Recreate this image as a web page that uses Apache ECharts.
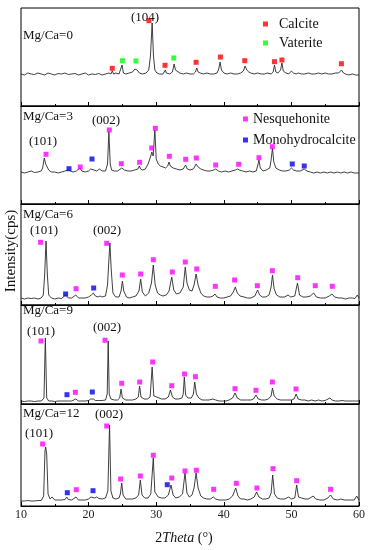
<!DOCTYPE html>
<html><head><meta charset="utf-8">
<script src="https://cdn.jsdelivr.net/npm/echarts@6/dist/echarts.min.js"></script>
<style>html,body{margin:0;padding:0;background:#fff}#c{width:368px;height:550px}</style>
</head><body><div id="c"></div>
<script>
// x tick labels
const xTicks = [10, 20, 30, 40, 50, 60];
const panelLabels = ['Mg/Ca=0', 'Mg/Ca=3', 'Mg/Ca=6', 'Mg/Ca=9', 'Mg/Ca=12'];

// XRD patterns [2theta, intensity] (relative, per panel)
const xrd0 = [[10,32],[10.5,31],[11,33],[11.5,32],[12,31.5],[12.5,33],[13,32],[13.5,31],[14,33],[14.5,32],[15,31],[15.5,32.5],[16,32],[16.5,33],[17,31.5],[17.5,32],[18,32.5],[18.5,31],[19,32],[19.5,33],[20,31],[20.5,32],[21,31.5],[21.5,32.5],[22,31],[22.5,32],[23,33],[23.3,32],[23.5,35],[23.7,32],[24,33],[24.5,32],[24.75,33],[24.95,41],[25.15,33],[25.5,32],[26,33],[26.5,34],[26.85,37],[27.0,39],[27.2,36],[27.5,33],[28,32],[28.5,33],[28.9,36],[29.15,50],[29.4,83],[29.6,50],[29.8,36],[30.1,33],[30.5,32],[31,32],[31.2,34],[31.35,36],[31.5,33],[32,32],[32.4,34],[32.65,42],[32.85,36],[33.1,35],[33.5,33],[34,32],[34.5,33],[35,32],[35.5,32],[35.8,34],[36.0,38],[36.2,34],[36.5,33],[37,32],[37.5,33],[38,32],[38.5,32],[39,33],[39.25,37],[39.45,44],[39.65,36],[40,33],[40.5,32],[41,33],[41.5,32],[42,32],[42.5,33],[42.9,35],[43.15,40],[43.4,36],[43.7,34],[44,33],[44.5,32],[45,33],[45.5,32],[46,32],[46.5,33],[47,32],[47.3,34],[47.5,41],[47.7,34],[48,33],[48.4,36],[48.6,43],[48.8,35],[49.2,33],[49.6,32],[50,35],[50.3,33],[50.7,32],[51,33],[51.5,32],[52,32],[52.5,33],[53,32],[53.5,32],[54,33],[54.5,32],[55,33],[55.5,32],[56,32],[56.5,33],[57,33],[57.4,36],[57.7,33],[58,32],[58.5,31],[59,32],[59.5,31],[60,31]];
const xrd3 = [[10,32],[10.5,31],[11,32],[11.5,33],[12,31.5],[12.5,32],[13,33],[13.2,36],[13.45,46],[13.65,40],[13.85,38],[14.1,34],[14.5,32],[15,32],[15.5,31],[16,32],[16.5,33],[17,34],[17.3,33],[17.7,32],[18.2,33],[18.7,36],[19,33],[19.5,32],[20,33],[20.3,35],[20.55,37],[20.8,34],[21.2,33],[21.6,35],[22,33],[22.5,33],[22.8,40],[23.0,72],[23.2,40],[23.4,34],[23.8,33],[24.3,33],[24.9,36],[25.3,34],[25.8,33],[26.3,33],[26.8,34],[27.3,35],[27.5,38],[27.7,35],[28,34],[28.4,35],[28.8,40],[29.2,48],[29.35,52],[29.55,48],[29.8,74],[30.0,45],[30.3,40],[30.6,38],[31,37],[31.4,36],[31.7,38],[31.9,42],[32.1,38],[32.5,36],[33,35],[33.5,34],[34,35],[34.35,39],[34.6,35],[35,34],[35.5,35],[35.9,40],[36.2,37],[36.6,35],[37,34],[37.5,33],[38,33],[38.5,34],[38.8,35],[39.2,33],[39.7,32],[40.2,33],[40.7,32],[41.2,33],[41.7,34],[42.0,35],[42.3,34],[42.8,33],[43.3,32],[43.8,33],[44.3,32],[44.8,33],[45.0,38],[45.2,44],[45.4,36],[45.8,33],[46.3,34],[46.8,36],[47.0,44],[47.2,56],[47.4,42],[47.7,36],[48.2,34],[48.7,33],[49.2,33],[49.7,34],[50.0,36],[50.3,34],[50.8,33],[51.3,33],[51.9,35],[52.3,33],[52.8,32],[53.3,31],[53.8,32],[54.3,31],[54.8,32],[55.3,31],[55.8,32],[56.3,31],[56.8,32],[57.3,31],[57.8,32],[58.3,31],[58.8,32],[59.3,31],[60,31]];
const xrd6 = [[10,7],[10.5,6],[11,7],[11.5,6.5],[12,7],[12.5,6],[13,7],[13.3,10],[13.5,30],[13.7,64],[13.9,30],[14.1,10],[14.5,7],[15,6],[15.5,7],[16,6.5],[16.6,10],[17,7],[17.5,7],[18.1,10],[18.5,7],[19,7],[19.5,7],[20,8],[20.4,10],[20.7,12],[21,9],[21.4,8],[21.7,9],[22,8],[22.5,9],[22.8,20],[23.0,45],[23.15,62],[23.35,35],[23.6,12],[24,8],[24.5,8],[24.8,14],[25.0,24],[25.2,14],[25.6,8],[26,7],[26.5,8],[27,9],[27.45,14],[27.7,26],[27.95,13],[28.4,9],[28.9,12],[29.3,22],[29.57,40],[29.85,20],[30.2,12],[30.6,10],[31,9],[31.5,10],[31.9,14],[32.3,28],[32.6,15],[33,11],[33.5,12],[34,18],[34.3,38],[34.55,22],[34.9,15],[35.3,14],[35.6,20],[35.9,31],[36.2,20],[36.6,12],[37,9],[37.5,8],[38,8],[38.4,9],[38.7,11],[39,8],[39.5,7],[40,7],[40.5,8],[41,9],[41.4,13],[41.7,18],[42.0,12],[42.4,9],[43,8],[43.5,7],[44,7],[44.6,9],[45.0,15],[45.3,10],[45.7,8],[46.2,8],[46.7,10],[47.0,18],[47.2,30],[47.45,16],[47.8,10],[48.3,8],[49,8],[49.5,10],[49.9,8],[50.5,9],[50.9,22],[51.2,10],[51.7,8],[52.2,8],[52.8,9],[53.3,12],[53.7,8],[54.3,7],[55,7],[55.6,9],[56.0,11],[56.4,8],[57,7],[57.5,7],[58,6],[58.5,7],[59,7],[59.4,6.5],[59.75,10],[60,7]];
const xrd9 = [[10,3],[10.5,2.5],[11,3],[11.5,3],[12,2.5],[12.5,3],[13,3],[13.4,6],[13.6,66],[13.8,6],[14.1,3],[14.6,3],[15,2.5],[15.5,3],[16,3],[16.5,3],[16.76,4.5],[17,3],[17.5,3],[18.1,5],[18.5,3],[19,3],[19.5,3],[20,3.5],[20.3,5],[20.5,7],[20.7,5],[21,3.5],[21.5,3.5],[22,3.5],[22.5,4],[22.75,10],[22.9,63],[23.05,10],[23.3,5],[23.8,4],[24.3,4],[24.6,6],[24.8,15],[25.0,6],[25.5,4],[26,4],[26.5,4],[27,5],[27.35,7],[27.55,18],[27.75,7],[28.2,5],[28.7,5],[29.1,7],[29.4,37],[29.65,8],[29.9,6],[30.07,7],[30.3,5],[30.8,5],[31.3,5],[31.8,7],[32.1,14],[32.4,7],[32.8,5],[33.3,5],[33.8,6],[34.0,10],[34.16,27],[34.35,9],[34.7,6],[35.2,6],[35.5,10],[35.7,22],[35.95,10],[36.3,6],[36.8,4],[37.3,4],[37.8,4],[38.4,5],[38.8,4],[39.3,3],[39.8,3],[40.3,3],[40.8,4],[41.3,6],[41.66,11],[42.0,6],[42.5,4],[43,4],[43.5,4],[44,4],[44.4,5],[44.76,9],[45.1,5],[45.6,4],[46.1,4],[46.6,5],[47.0,8],[47.2,16],[47.45,8],[47.9,5],[48.4,4],[49,4],[49.5,4],[50,4],[50.4,5],[50.7,10],[51,5],[51.5,4],[52,4],[52.5,3],[53,4],[53.5,3],[54,4],[54.5,3],[55,3.5],[55.7,6],[56,4],[56.5,3],[57,3],[57.5,3.5],[58,3],[58.5,3],[59,3],[59.5,3],[59.7,5],[60,3]];
const xrd12 = [[10,5],[10.5,5],[11,5.5],[11.5,5],[12,5],[12.5,5.5],[13,5.5],[13.35,10],[13.55,55],[13.65,59],[13.8,52],[14.0,12],[14.3,7],[14.6,9],[15,6],[15.5,6],[16,6],[16.5,6.5],[16.76,9],[17,6.5],[17.5,6],[18.14,9],[18.5,6],[19,6],[19.5,6],[20,7],[20.35,9],[20.6,11],[20.9,8],[21.2,9],[21.5,7.5],[22,7],[22.5,8],[22.85,15],[23.1,81],[23.3,15],[23.6,8],[24,7],[24.5,8],[24.7,12],[24.9,23],[25.1,11],[25.5,7],[26,7],[26.5,7],[27,8],[27.4,11],[27.65,26],[27.9,11],[28.3,8],[28.8,8],[29.2,12],[29.57,48],[29.8,14],[30.07,13],[30.3,9],[30.8,8],[31.3,8],[31.8,11],[32.19,21],[32.5,11],[32.9,8],[33.4,9],[33.9,12],[34.26,33],[34.55,13],[34.9,9],[35.3,11],[35.6,18],[35.9,33],[36.2,18],[36.6,10],[37,8],[37.5,7],[38,7],[38.45,9],[38.8,7],[39.3,6],[39.8,6],[40.3,6],[40.8,7],[41.3,10],[41.76,18],[42.1,10],[42.5,7],[43,7],[43.5,6],[44,7],[44.5,9],[44.86,14],[45.2,9],[45.7,7],[46.2,7],[46.7,8],[47.0,13],[47.23,31],[47.5,12],[47.9,8],[48.4,7],[49,7],[49.6,9],[50,7],[50.5,8],[50.78,21],[51.05,9],[51.5,8],[52,7],[52.5,7],[53.24,10],[53.6,7],[54.2,6],[54.8,6],[55.4,8],[55.8,11],[56.2,7],[56.8,6],[57.3,7],[57.8,6],[58.3,6],[58.8,6],[59.3,6],[59.66,10],[60,6]];

// phase markers [2theta, marker height]
const calcite0 = [[23.5,37.7],[28.93,85.3],[31.3,40.7],[35.9,43.7],[39.5,49],[43.1,45.3],[47.5,44.3],[48.6,46],[57.4,42.3]];
const vaterite0 = [[25.0,45.3],[27.0,45],[32.6,48]];
const nesq3 = [[13.7,49.7],[23.06,74],[18.77,37],[24.84,40.3],[27.55,41.7],[29.33,56],[29.87,75.7],[31.94,47.7],[34.36,44.7],[35.94,46],[38.8,39],[42.2,39.7],[45.2,46.3],[47.18,57.3]];
const mono3 = [[17.1,35.3],[20.5,45],[50.13,40],[51.9,38]];
const nesq6 = [[12.9,62.7],[22.68,61.7],[18.14,16.3],[24.99,30],[27.7,31],[29.57,45.3],[32.38,33],[34.3,43],[36.0,36],[38.74,18.7],[41.6,25],[44.96,19.3],[47.18,34.3],[50.93,27.3],[53.53,19.3],[56.05,18.7]];
const mono6 = [[16.6,11],[20.75,17]];
const nesq9 = [[12.96,63],[22.43,63.7],[18.04,11.7],[24.9,20.7],[27.56,22],[29.48,42],[32.3,18.3],[34.2,30],[35.8,27.3],[41.66,15.3],[44.76,13.7],[47.18,22],[50.68,15]];
const mono9 = [[16.8,9.3],[20.55,12]];
const nesq12 = [[13.2,62],[22.68,80],[18.18,16.3],[24.74,27],[27.65,30],[29.57,50.7],[32.3,28],[34.26,35],[35.94,35.7],[38.5,16.7],[41.85,22.7],[44.9,18],[47.28,37.3],[50.78,25.3],[55.8,16.7]];
const mono12 = [[16.85,13.3],[20.65,15.3],[31.64,21.3]];

const patterns = [xrd0, xrd3, xrd6, xrd9, xrd12];
const tops = [8, 106, 204, 305, 404];
const heights = [98, 98, 101, 99, 102];
const FONT = '"Liberation Serif", "Times New Roman", serif';

const grids = [], xAxes = [], yAxes = [], series = [];
for (let i = 0; i < 5; i++) {
  grids.push({left: 21, right: 9, top: tops[i], height: heights[i], show: true, borderColor: '#000', borderWidth: 1, backgroundColor: 'transparent'});
  const last = i === 4;
  xAxes.push({
    gridIndex: i, type: 'value', min: xTicks[0], max: xTicks[xTicks.length - 1], interval: 10,
    axisLine: {show: true, onZero: false, lineStyle: {color: '#000', width: 1}},
    axisTick: {show: true, inside: true, length: 4, lineStyle: {color: '#000'}},
    minorTick: {show: true, splitNumber: 2, length: 2, lineStyle: {color: '#000'}},
    splitLine: {show: false},
    axisLabel: {show: last, margin: 3, color: '#222', fontFamily: FONT, fontSize: 12}
  });
  yAxes.push({gridIndex: i, type: 'value', min: 0, max: heights[i], show: false});
  series.push({type: 'line', xAxisIndex: i, yAxisIndex: i, data: patterns[i], showSymbol: false, symbol: 'none',
    lineStyle: {color: '#2a2a2a', width: 0.9}, z: 2, silent: true});
}
function marks(name, data, i, color) {
  series.push({type: 'scatter', name: name, xAxisIndex: i, yAxisIndex: i, data: data, symbol: 'rect', symbolSize: 5,
    itemStyle: {color: color}, z: 5, silent: true});
}
marks('Calcite', calcite0, 0, '#ff0000');
marks('Vaterite', vaterite0, 0, '#00ff00');
const nesqs = [null, nesq3, nesq6, nesq9, nesq12];
const monos = [null, mono3, mono6, mono9, mono12];
for (let i = 1; i < 5; i++) {
  marks('Nesquehonite', nesqs[i], i, '#ff00ff');
  marks('Monohydrocalcite', monos[i], i, '#0000ee');
}

function txt(t, x, y, align, size) {
  return {type: 'text', style: {text: t, x: x, y: y, textAlign: align || 'left', textVerticalAlign: 'middle',
    font: (size || 13) + 'px ' + FONT, fill: '#111'}};
}
const graphics = [
  txt(panelLabels[0], 23, 36), txt('(104)', 145, 18, 'center'),
  txt(panelLabels[1], 23, 117), txt('(101)', 43, 142, 'center'), txt('(002)', 106, 121, 'center'),
  txt(panelLabels[2], 23, 215), txt('(101)', 44, 231, 'center'), txt('(002)', 107, 231, 'center'),
  txt(panelLabels[3], 23, 311), txt('(101)', 41, 332, 'center'), txt('(002)', 107, 328, 'center'),
  txt(panelLabels[4], 23, 414), txt('(101)', 39, 434, 'center'), txt('(002)', 109, 415, 'center'),
  {type: 'text', x: 184, y: 538, style: {text: '{a|2}{b|Theta} (°)', textAlign: 'center', textVerticalAlign: 'middle',
    font: '14px ' + FONT, fill: '#111',
    rich: {a: {fontFamily: FONT, fontSize: 14, fill: '#111'}, b: {fontFamily: FONT, fontSize: 14, fontStyle: 'italic', fill: '#111'}}}},
  {type: 'text', x: 11, y: 251, rotation: Math.PI / 2, style: {text: 'Intensity(cps)', textAlign: 'center', textVerticalAlign: 'middle',
    font: '15px ' + FONT, fill: '#111'}}
];

const chart = echarts.init(document.getElementById('c'), null, {renderer: 'canvas'});
chart.setOption({
  animation: false,
  grid: grids, xAxis: xAxes, yAxis: yAxes, series: series,
  legend: [
    {data: ['Calcite', 'Vaterite'], orient: 'vertical', left: 258, top: 12, itemWidth: 5, itemHeight: 5, itemGap: 5,
     icon: 'rect', selectedMode: false, textStyle: {fontFamily: FONT, fontSize: 14, color: '#111', padding: [0, 0, 0, 6]}},
    {data: ['Nesquehonite', 'Monohydrocalcite'], orient: 'vertical', left: 238, top: 107, itemWidth: 5, itemHeight: 5, itemGap: 7,
     icon: 'rect', selectedMode: false, textStyle: {fontFamily: FONT, fontSize: 14, color: '#111', padding: [0, 0, 0, 0]}}
  ],
  graphic: graphics
});
</script></body></html>
